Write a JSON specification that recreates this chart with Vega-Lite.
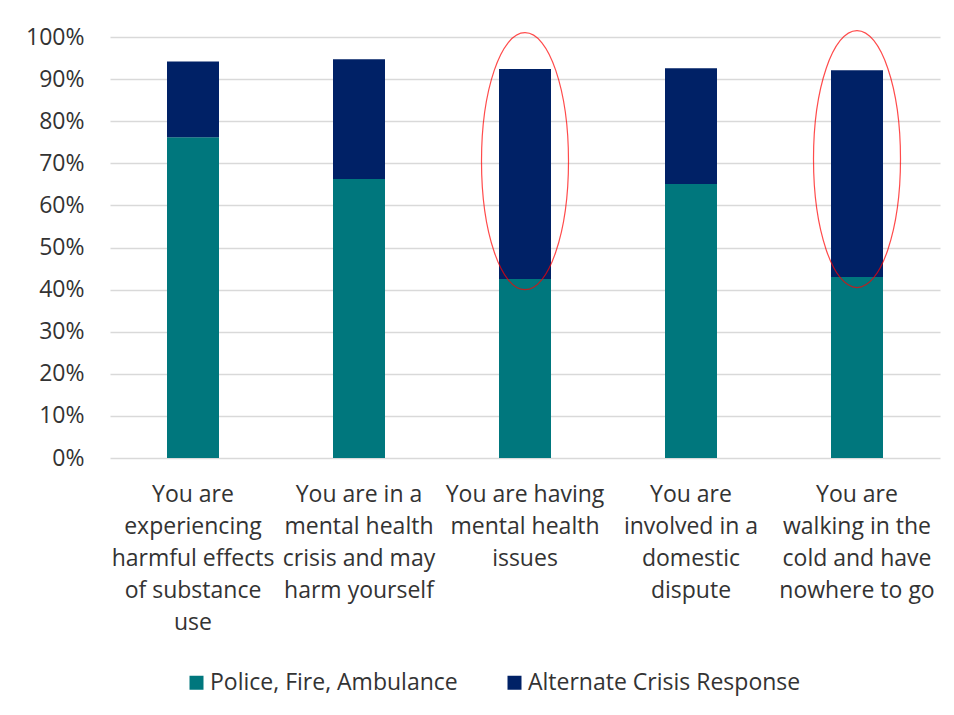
{
  "$schema": "https://vega.github.io/schema/vega-lite/v6.json",
  "autosize": "none",
  "width": 830,
  "height": 421,
  "padding": {"left": 110, "top": 37, "right": 14, "bottom": 257},
  "background": "white",
  "config": {
    "font": "Open Sans",
    "view": {"stroke": null},
    "axis": {"labelFont": "Open Sans", "labelFontSize": 23, "labelColor": "#333333", "ticks": false, "title": null}
  },
  "datasets": {
    "bars": [
      {"cat": "You are|experiencing|harmful effects|of substance|use", "resp": "Police, Fire, Ambulance", "ord": 1, "share": 0.762},
      {"cat": "You are|experiencing|harmful effects|of substance|use", "resp": "Alternate Crisis Response", "ord": 2, "share": 0.180},
      {"cat": "You are in a|mental health|crisis and may|harm yourself", "resp": "Police, Fire, Ambulance", "ord": 1, "share": 0.663},
      {"cat": "You are in a|mental health|crisis and may|harm yourself", "resp": "Alternate Crisis Response", "ord": 2, "share": 0.284},
      {"cat": "You are having|mental health|issues", "resp": "Police, Fire, Ambulance", "ord": 1, "share": 0.425},
      {"cat": "You are having|mental health|issues", "resp": "Alternate Crisis Response", "ord": 2, "share": 0.499},
      {"cat": "You are|involved in a|domestic|dispute", "resp": "Police, Fire, Ambulance", "ord": 1, "share": 0.651},
      {"cat": "You are|involved in a|domestic|dispute", "resp": "Alternate Crisis Response", "ord": 2, "share": 0.275},
      {"cat": "You are|walking in the|cold and have|nowhere to go", "resp": "Police, Fire, Ambulance", "ord": 1, "share": 0.430},
      {"cat": "You are|walking in the|cold and have|nowhere to go", "resp": "Alternate Crisis Response", "ord": 2, "share": 0.491}
    ],
    "marks": [
      {"cat": "You are having|mental health|issues", "center": 0.705},
      {"cat": "You are|walking in the|cold and have|nowhere to go", "center": 0.71}
    ]
  },
  "layer": [
    {
      "data": {"name": "bars"},
      "mark": {"type": "bar", "width": 52},
      "encoding": {
        "x": {
          "field": "cat", "type": "nominal", "sort": null,
          "scale": {"paddingInner": 0, "paddingOuter": 0},
          "axis": {"labelAngle": 0, "labelExpr": "split(datum.label, '|')", "labelLineHeight": 32, "labelPadding": 25, "labelBaseline": "top", "domain": false, "labelLimit": 200}
        },
        "y": {
          "field": "share", "type": "quantitative", "stack": "zero",
          "scale": {"domain": [0, 1], "nice": false},
          "axis": {"format": ".0%", "values": [0, 0.1, 0.2, 0.3, 0.4, 0.5, 0.6, 0.7, 0.8, 0.9, 1.0], "grid": true, "gridColor": "#d9d9d9", "gridWidth": 1.5, "domain": false, "labelPadding": 26}
        },
        "color": {
          "field": "resp", "type": "nominal",
          "scale": {"domain": ["Police, Fire, Ambulance", "Alternate Crisis Response"], "range": ["#00777D", "#002166"]},
          "legend": {
            "title": null, "orient": "none", "direction": "horizontal", "legendX": 75, "legendY": 634, "padding": 0,
            "symbolType": "square", "symbolSize": 196, "labelFontSize": 23, "labelColor": "#333333", "labelFont": "Open Sans",
            "labelOffset": 2, "columnPadding": 45, "labelLimit": 400,
            "encode": {"symbols": {"update": {"fill": {"scale": "color", "field": "value"}, "strokeWidth": {"value": 0}, "opacity": {"value": 1}}}}
          }
        },
        "order": {"field": "ord", "type": "quantitative"}
      }
    },
    {
      "data": {"name": "marks"},
      "mark": {
        "type": "point", "filled": false, "stroke": "#ff0000", "strokeWidth": 1.2, "size": 66049,
        "shape": "M 0 -1 C 0.187 -1 0.3385 -0.5523 0.3385 0 C 0.3385 0.5523 0.187 1 0 1 C -0.187 1 -0.3385 0.5523 -0.3385 0 C -0.3385 -0.5523 -0.187 -1 0 -1 Z"
      },
      "encoding": {
        "x": {"field": "cat", "type": "nominal", "sort": null},
        "y": {"field": "center", "type": "quantitative"}
      }
    }
  ]
}
